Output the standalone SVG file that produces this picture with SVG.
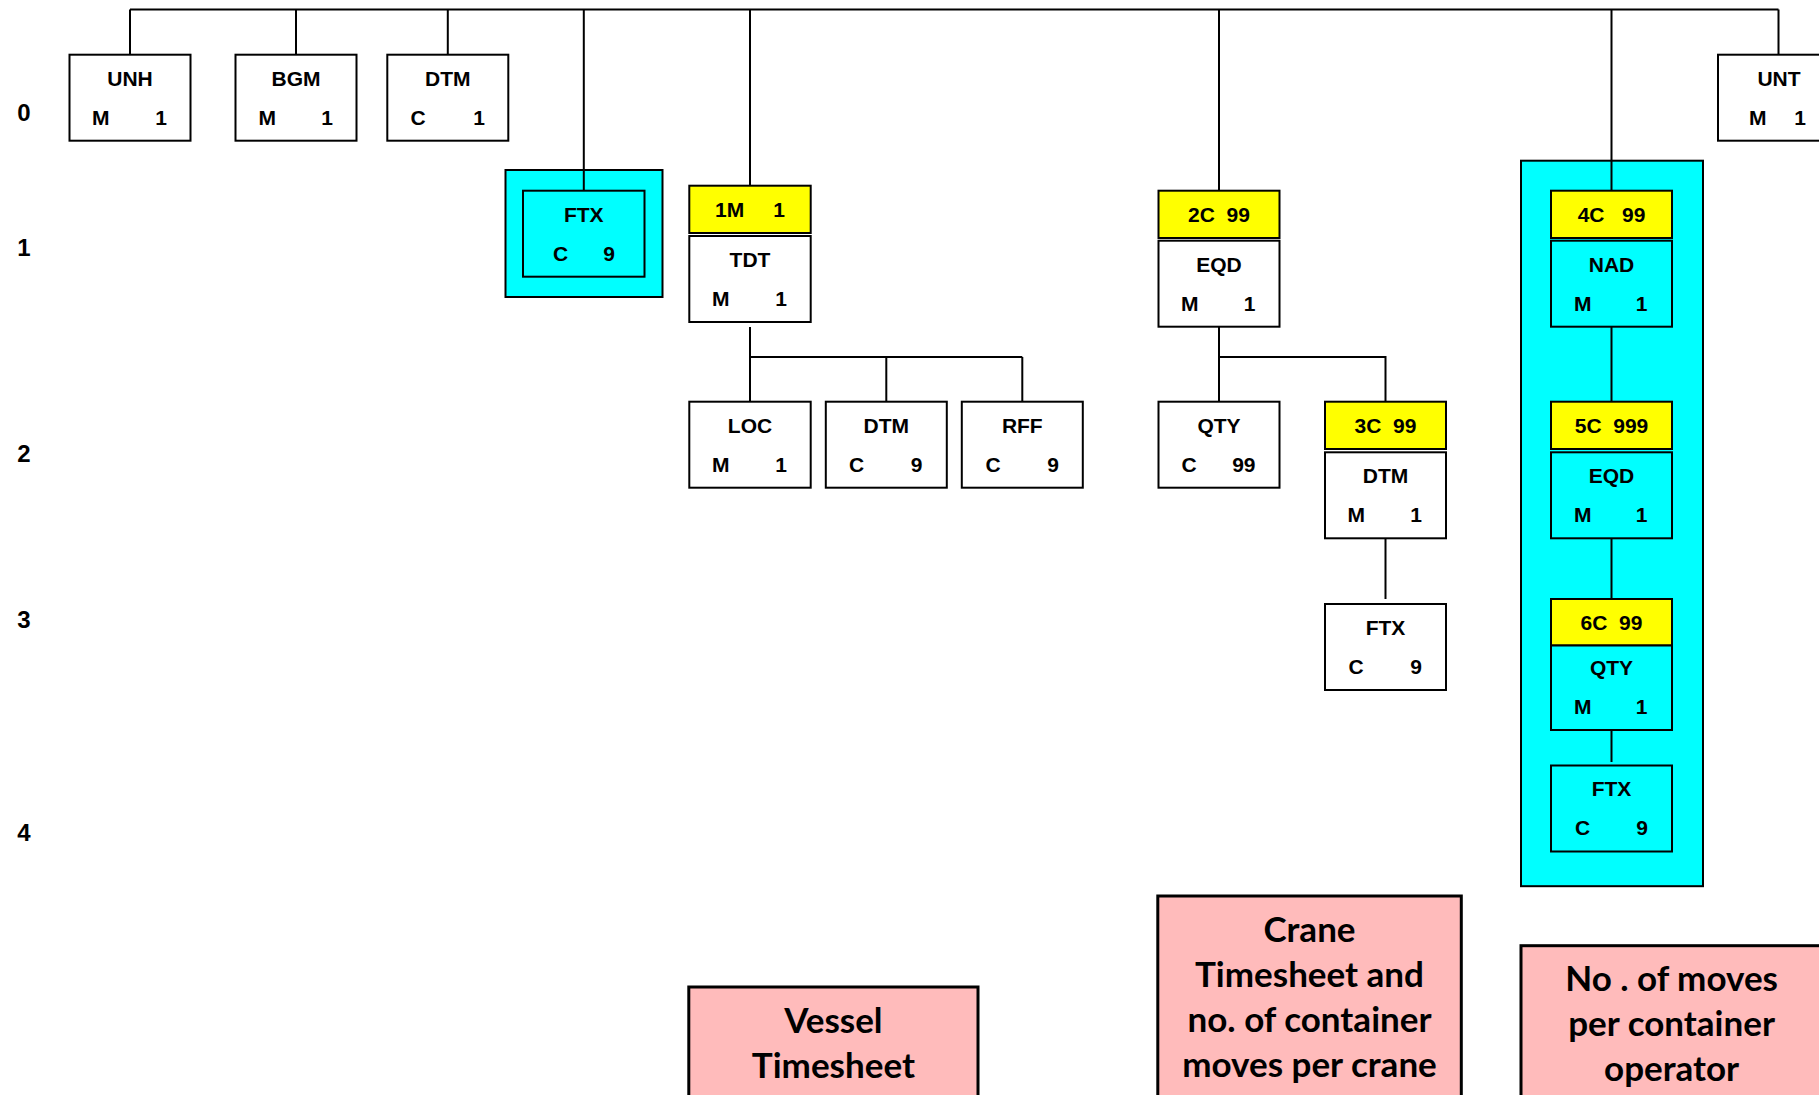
<svg xmlns="http://www.w3.org/2000/svg" width="1819" height="1095" viewBox="0 0 1819 1095">
<style>
.box{fill:#ffffff;stroke:#000;stroke-width:2}
.cy{fill:#00ffff;stroke:#000;stroke-width:2}
.yl{fill:#ffff00;stroke:#000;stroke-width:2}
.pk{fill:#ffbbbb;stroke:#000;stroke-width:3}
.ln{fill:none;stroke:#000;stroke-width:2}
text{font-family:"Liberation Sans",Arial,sans-serif;font-weight:bold;font-size:21px;fill:#000}
.c{text-anchor:middle}
.e{text-anchor:end}
.pre{white-space:pre;text-anchor:middle}
.lvl{font-size:24px;text-anchor:middle}
.note{font-family:Lato,"Open Sans",sans-serif;font-size:35px;text-anchor:middle}
</style>

<g id="levels">
<text class="lvl" x="24" y="121">0</text>
<text class="lvl" x="24" y="256">1</text>
<text class="lvl" x="24" y="462">2</text>
<text class="lvl" x="24" y="628">3</text>
<text class="lvl" x="24" y="841">4</text>
</g>

<g id="connectors">
<path class="ln" d="M130,9.5 H1778.5"/>
<path class="ln" d="M130,9.5 V54.7 M296,9.5 V54.7 M447.8,9.5 V54.7 M583.8,9.5 V190.7 M750,9.5 V190 M1219,9.5 V190.7 M1611.5,9.5 V190.7 M1778.5,9.5 V54.7"/>
<path class="ln" d="M750,327 V401.7 M750,357 H1022.3 M886.3,357 V401.7 M1022.3,357 V401.7"/>
<path class="ln" d="M1219,326.7 V401.7 M1219,357 H1385.5 V401.7"/>
<path class="ln" d="M1385.5,538.3 V599"/>
</g>

<g id="group-nad-bg">
<rect class="cy" x="1521" y="160.7" width="182" height="725.5"/>
</g>
<g id="connectors-inner">
<path class="ln" d="M1611.5,160.7 V190.7 M1611.5,326.7 V401.7 M1611.5,538.3 V599 M1611.5,730 V762"/>
</g>

<g id="UNH">
<rect class="box" x="69.5" y="54.7" width="121" height="86"/>
<text class="c" x="130" y="85.5">UNH</text>
<text x="92" y="124.5">M</text><text class="e" x="167" y="124.5">1</text>
</g>
<g id="BGM">
<rect class="box" x="235.5" y="54.7" width="121" height="86"/>
<text class="c" x="296" y="85.5">BGM</text>
<text x="258.5" y="124.5">M</text><text class="e" x="333" y="124.5">1</text>
</g>
<g id="DTM0">
<rect class="box" x="387.3" y="54.7" width="121" height="86"/>
<text class="c" x="447.8" y="85.5">DTM</text>
<text x="410.5" y="124.5">C</text><text class="e" x="485" y="124.5">1</text>
</g>
<g id="UNT">
<rect class="box" x="1718" y="54.7" width="121" height="86"/>
<text class="c" x="1779" y="85.5">UNT</text>
<text x="1749" y="124.5">M</text><text class="e" x="1806" y="124.5">1</text>
</g>

<g id="FTX1">
<rect class="cy" x="505.5" y="170" width="157" height="127"/>
<rect class="cy" x="523" y="190.7" width="121.5" height="86"/>
<path class="ln" d="M583.8,170 V190.7"/>
<text class="c" x="583.8" y="221.5">FTX</text>
<text x="553" y="260.5">C</text><text class="e" x="615" y="260.5">9</text>
</g>

<g id="SG1">
<rect class="yl" x="689.3" y="185.7" width="121.4" height="47.3"/>
<text class="pre" x="750" y="216.5">1M     1</text>
</g>
<g id="TDT">
<rect class="box" x="689.3" y="236" width="121.4" height="86"/>
<text class="c" x="750" y="266.5">TDT</text>
<text x="712" y="305.5">M</text><text class="e" x="787" y="305.5">1</text>
</g>
<g id="LOC">
<rect class="box" x="689.3" y="401.7" width="121.4" height="86"/>
<text class="c" x="750" y="432.5">LOC</text>
<text x="712" y="471.5">M</text><text class="e" x="787" y="471.5">1</text>
</g>
<g id="DTM2">
<rect class="box" x="825.8" y="401.7" width="121" height="86"/>
<text class="c" x="886.3" y="432.5">DTM</text>
<text x="849" y="471.5">C</text><text class="e" x="922.5" y="471.5">9</text>
</g>
<g id="RFF">
<rect class="box" x="961.8" y="401.7" width="121" height="86"/>
<text class="c" x="1022.3" y="432.5">RFF</text>
<text x="985.5" y="471.5">C</text><text class="e" x="1059" y="471.5">9</text>
</g>

<g id="SG2">
<rect class="yl" x="1158.5" y="190.7" width="121" height="47.3"/>
<text class="pre" x="1219" y="221.5">2C  99</text>
</g>
<g id="EQD">
<rect class="box" x="1158.5" y="240.7" width="121" height="86"/>
<text class="c" x="1219" y="271.5">EQD</text>
<text x="1181" y="310.5">M</text><text class="e" x="1255.5" y="310.5">1</text>
</g>
<g id="QTY">
<rect class="box" x="1158.5" y="401.7" width="121" height="86"/>
<text class="c" x="1219" y="432.5">QTY</text>
<text x="1181.5" y="471.5">C</text><text class="e" x="1255.5" y="471.5">99</text>
</g>

<g id="SG3">
<rect class="yl" x="1325" y="401.7" width="121" height="47.3"/>
<text class="pre" x="1385.5" y="432.5">3C  99</text>
</g>
<g id="DTM3">
<rect class="box" x="1325" y="452.3" width="121" height="86"/>
<text class="c" x="1385.5" y="483">DTM</text>
<text x="1347.5" y="522">M</text><text class="e" x="1422" y="522">1</text>
</g>
<g id="FTX3">
<rect class="box" x="1325" y="604" width="121" height="86"/>
<text class="c" x="1385.5" y="634.5">FTX</text>
<text x="1348.5" y="673.5">C</text><text class="e" x="1422" y="673.5">9</text>
</g>

<g id="SG4">
<rect class="yl" x="1551" y="190.7" width="121" height="47.3"/>
<text class="pre" x="1611.5" y="221.5">4C   99</text>
</g>
<g id="NAD">
<rect class="cy" x="1551" y="240.7" width="121" height="86"/>
<text class="c" x="1611.5" y="271.5">NAD</text>
<text x="1574" y="310.5">M</text><text class="e" x="1647.5" y="310.5">1</text>
</g>
<g id="SG5">
<rect class="yl" x="1551" y="401.7" width="121" height="47.3"/>
<text class="pre" x="1611.5" y="432.5">5C  999</text>
</g>
<g id="EQD2">
<rect class="cy" x="1551" y="452.3" width="121" height="86"/>
<text class="c" x="1611.5" y="483">EQD</text>
<text x="1574" y="522">M</text><text class="e" x="1647.5" y="522">1</text>
</g>
<g id="SG6">
<rect class="yl" x="1551" y="599" width="121" height="46.5"/>
<text class="pre" x="1611.5" y="630">6C  99</text>
</g>
<g id="QTY2">
<rect class="cy" x="1551" y="645.5" width="121" height="84.5"/>
<text class="c" x="1611.5" y="675">QTY</text>
<text x="1574" y="714">M</text><text class="e" x="1647.5" y="714">1</text>
</g>
<g id="FTX4">
<rect class="cy" x="1551" y="765.5" width="121" height="86"/>
<text class="c" x="1611.5" y="796">FTX</text>
<text x="1575" y="835">C</text><text class="e" x="1648" y="835">9</text>
</g>

<g id="note-vessel">
<rect class="pk" x="688.8" y="987" width="289.2" height="130"/>
<text class="note" x="833.4" y="1033">Vessel</text>
<text class="note" x="833.4" y="1078">Timesheet</text>
</g>
<g id="note-crane">
<rect class="pk" x="1157.8" y="896" width="303.5" height="220"/>
<text class="note" x="1309.5" y="941.5">Crane</text>
<text class="note" x="1309.5" y="986.5">Timesheet and</text>
<text class="note" x="1309.5" y="1031.5">no. of container</text>
<text class="note" x="1309.5" y="1076.5">moves per crane</text>
</g>
<g id="note-moves">
<rect class="pk" x="1521" y="945.7" width="303" height="170"/>
<text class="note" x="1671.6" y="990.5">No . of moves</text>
<text class="note" x="1671.6" y="1035.5">per container</text>
<text class="note" x="1671.6" y="1080.5">operator</text>
</g>
</svg>
